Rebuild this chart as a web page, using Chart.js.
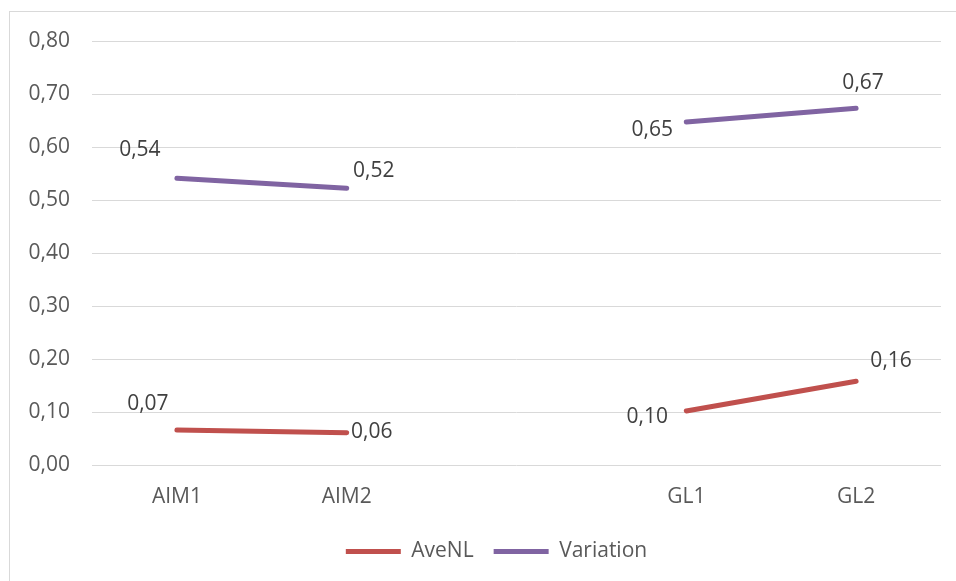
<!DOCTYPE html>
<html>
<head>
<meta charset="utf-8">
<script src="https://cdn.jsdelivr.net/npm/chart.js@4"></script>
<style>
  html, body { margin: 0; padding: 0; background: #fff; }
  #wrap { position: relative; width: 956px; height: 581px; overflow: hidden; }
  #frame { position: absolute; left: 9px; top: 11px; width: 1000px; height: 700px;
           border-top: 1px solid #d9d9d9; border-left: 1px solid #d9d9d9; pointer-events: none; }
  canvas { position: absolute; left: 0; top: 0; }
</style>
</head>
<body>
<div id="wrap">
  <canvas id="c" width="956" height="581"></canvas>
  <div id="frame"></div>
</div>
<script>
// ---- data ----
const categories = ["AIM1", "AIM2", "", "GL1", "GL2"];
const aveNL     = [0.066, 0.061, null, 0.102, 0.158];
const variation = [0.541, 0.522, null, 0.647, 0.673];
const yTicks = [0, 0.1, 0.2, 0.3, 0.4, 0.5, 0.6, 0.7, 0.8];

// label offsets (style only, relative to each point)
const aveNLLabelOffsets     = [[-29,-26],[25,-1],null,[-39,6],[35,-20]];
const variationLabelOffsets = [[-37,-28],[27,-17],null,[-34,8],[7,-25]];

const FONT = "'Open Sans', 'Liberation Sans', sans-serif";
const FS = 21;
const fmt = v => v.toFixed(2).replace('.', ',');

const labelPlugin = {
  id: 'pointLabels',
  afterLayout(chart) {
    // centre the legend like the reference (slightly right of canvas centre)
    if (chart.legend) { chart.legend.left += 26; chart.legend.right += 26; }
  },
  afterDatasetsDraw(chart) {
    const ctx = chart.ctx;
    ctx.save();
    ctx.font = FS + "px " + FONT;
    ctx.fillStyle = '#404040';
    ctx.textAlign = 'center';
    ctx.textBaseline = 'middle';
    chart.data.datasets.forEach((ds, di) => {
      const meta = chart.getDatasetMeta(di);
      meta.data.forEach((pt, i) => {
        const v = ds.data[i];
        if (v === null || v === undefined) return;
        const off = ds.labelOffsets[i] || [0, 0];
        ctx.fillText(fmt(v), pt.x + off[0], pt.y + off[1]);
      });
    });
    ctx.restore();
  }
};

new Chart(document.getElementById('c'), {
  type: 'line',
  data: {
    labels: categories,
    datasets: [
      { label: 'AveNL', data: aveNL, borderColor: '#C0504D', backgroundColor: '#C0504D',
        borderWidth: 5, borderCapStyle: 'round', pointRadius: 0, pointHoverRadius: 0,
        pointStyle: 'line', spanGaps: false, labelOffsets: aveNLLabelOffsets },
      { label: 'Variation', data: variation, borderColor: '#8064A2', backgroundColor: '#8064A2',
        borderWidth: 5, borderCapStyle: 'round', pointRadius: 0, pointHoverRadius: 0,
        pointStyle: 'line', spanGaps: false, labelOffsets: variationLabelOffsets }
    ]
  },
  options: {
    responsive: false,
    animation: false,
    devicePixelRatio: 1,
    layout: { padding: { left: 0, right: 15, top: 41, bottom: 9 } },
    plugins: {
      tooltip: { enabled: false },
      legend: {
        position: 'bottom',
        labels: {
          usePointStyle: true,
          pointStyleWidth: 55,
          boxHeight: 21,
          padding: 20,
          color: '#595959',
          font: { family: FONT, size: FS }
        }
      }
    },
    scales: {
      x: {
        type: 'category',
        offset: true,
        grid: { display: false, drawTicks: false },
        border: { display: false },
        ticks: { color: '#595959', font: { family: FONT, size: FS }, padding: 19, maxRotation: 0 },
        afterFit(scale) { scale.height = 56; }
      },
      y: {
        min: 0, max: 0.8,
        afterBuildTicks(scale) { scale.ticks = yTicks.map(v => ({ value: v })); },
        grid: { color: '#d9d9d9', lineWidth: 1, drawTicks: false },
        border: { display: false },
        ticks: { color: '#595959', font: { family: FONT, size: FS }, padding: 22,
                 callback: v => fmt(v) },
        afterFit(scale) { scale.width = 92; }
      }
    }
  },
  plugins: [labelPlugin]
});
</script>
</body>
</html>
